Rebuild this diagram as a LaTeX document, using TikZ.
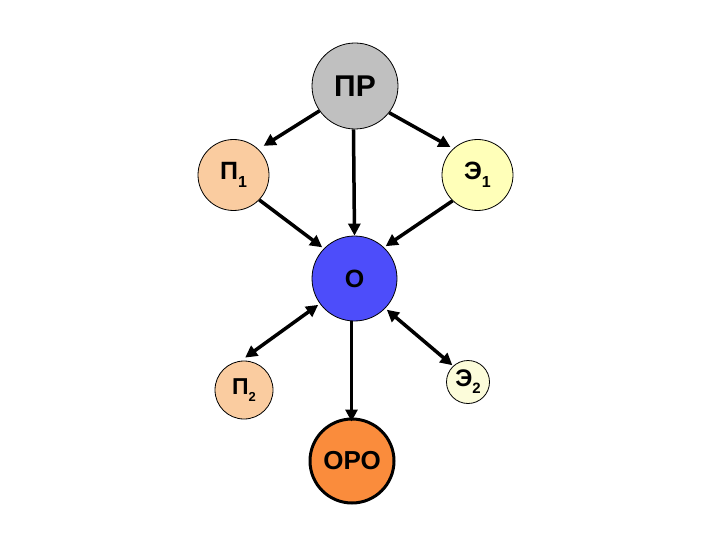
\documentclass[tikz,border=0pt]{standalone}
\usepackage{fontspec}
\setmainfont{Liberation Sans}
\usetikzlibrary{arrows.meta}
\definecolor{cgray}{RGB}{192,192,192}
\definecolor{cpeach}{RGB}{250,204,160}
\definecolor{cyel}{RGB}{255,255,185}
\definecolor{cpale}{RGB}{252,252,218}
\definecolor{cblue}{RGB}{77,77,250}
\definecolor{corange}{RGB}{250,140,60}
\newcommand{\sbx}[2]{\raisebox{-0.3em}{\fontsize{#1}{#1}\selectfont #2}}
\tikzset{
  ball/.style={circle,draw=black,line width=0.8pt,inner sep=0pt,font=\bfseries\fontsize{25}{25}\selectfont},
  arr/.style={line width=3.5pt,-{Triangle[length=12pt,width=12pt]}},
  barr/.style={line width=3.5pt,{Triangle[length=12pt,width=12pt]}-{Triangle[length=12pt,width=12pt]}}
}
\begin{document}
\begin{tikzpicture}[x=1pt,y=-1pt]
\useasboundingbox (0,0) rectangle (720,540);
\node[ball,fill=cgray,minimum size=86pt,font=\bfseries\fontsize{30}{30}\selectfont] (pr) at (355,86) {ПР};
\node[ball,fill=cpeach,minimum size=71pt] (p1) at (233.5,175) {П\sbx{16}{1}};
\node[ball,fill=cyel,minimum size=71pt] (e1) at (477.5,175) {Э\sbx{16}{1}};
\node[ball,fill=cblue,minimum size=85pt,font=\bfseries\fontsize{25}{25}\selectfont] (o) at (354.5,278.5) {О};
\node[ball,fill=cpeach,minimum size=58pt,font=\bfseries\fontsize{23}{23}\selectfont] (p2) at (244,390) {П\sbx{13}{2}};
\node[ball,fill=cpale,minimum size=43pt,font=\bfseries\fontsize{24}{24}\selectfont] (e2) at (468,382) {Э\sbx{15}{2}};
\node[ball,fill=corange,minimum size=84pt,line width=3pt,font=\bfseries\fontsize{26}{26}\selectfont] (oro) at (352,461) {ОРО};
\draw[arr] (pr.215) -- ([shift={(44:6pt)}]p1.44);
\draw[arr] (pr.322) -- ([shift={(134:3pt)}]e1.134);
\draw[arr] (pr.268) -- (o.north);
\draw[arr] (p1.316) -- ([shift={(136:2pt)}]o.136);
\draw[arr] (e1.226) -- ([shift={(46:2pt)}]o.46);
\draw[barr] ([shift={(216:2pt)}]o.216) -- ([shift={(88:3pt)}]p2.88);
\draw[barr] ([shift={(316:2pt)}]o.316) -- ([shift={(133:1pt)}]e2.133);
\draw[arr] (o.266) -- ([yshift=-4pt]o.266 |- oro.north);
\end{tikzpicture}
\end{document}
